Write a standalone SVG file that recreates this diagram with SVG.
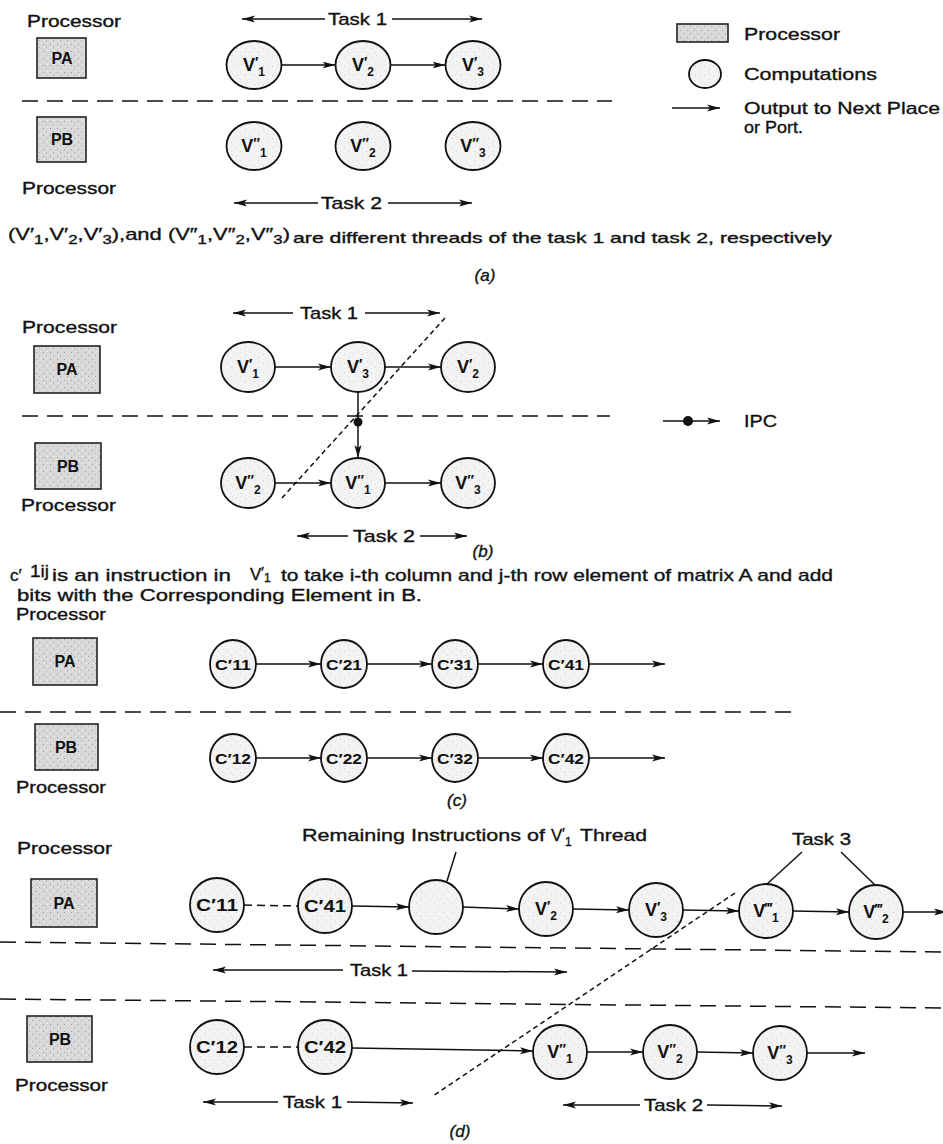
<svg xmlns="http://www.w3.org/2000/svg" width="943" height="1144" viewBox="0 0 943 1144">
<style>
.t{font-family:"Liberation Sans",Arial,Helvetica,sans-serif;font-size:17px;fill:#111;stroke:#111;stroke-width:0.35}
.sm{font-size:15px}
.sub{font-size:13px}
.it{font-style:italic;font-size:17px}
.pl{font-family:"Liberation Sans",Arial,sans-serif;font-weight:bold;font-size:16px;fill:#111;text-anchor:middle}
.lbl{font-family:"Liberation Sans",Arial,sans-serif;font-weight:bold;font-size:18px;fill:#111;text-anchor:middle}
.pr{font-size:14px}
.sb{font-size:12px}
.cl{font-family:"Liberation Sans",Arial,sans-serif;font-weight:bold;font-size:15px;fill:#111;text-anchor:middle}
.cl2{font-family:"Liberation Sans",Arial,sans-serif;font-weight:bold;font-size:17px;fill:#111;text-anchor:middle}
.proc rect{fill:url(#pfill);stroke:#222;stroke-width:1.6}
.node ellipse{fill:url(#cfill);stroke:#111;stroke-width:1.8}
.c line,.c path{stroke:#111;stroke-width:1.5;fill:none}
.arr{marker-end:url(#ah)}
.sep{stroke:#222;stroke-width:1.6;stroke-dasharray:16 9;fill:none}
.dot{stroke:#111;stroke-width:1.3;stroke-dasharray:5 3.5;fill:none}
.dsh{stroke-dasharray:8 5}
</style>
<defs>
<marker id="ah" markerWidth="14" markerHeight="8" refX="13" refY="4" orient="auto" markerUnits="userSpaceOnUse"><path d="M0,0.5 L13,4 L0,7.5 L3,4 z" fill="#111"/></marker>
<pattern id="pfill" width="7" height="7" patternUnits="userSpaceOnUse"><rect width="7" height="7" fill="#d8d8d8"/><rect x="1" y="2" width="1" height="1" fill="#9c9c9c"/><rect x="4" y="5" width="1" height="1" fill="#a8a8a8"/><rect x="5" y="1" width="1" height="1" fill="#f3f3f3"/><rect x="2" y="5" width="1" height="1" fill="#efefef"/></pattern>
<pattern id="cfill" width="9" height="9" patternUnits="userSpaceOnUse"><rect width="9" height="9" fill="#f3f3f3"/><rect x="2" y="3" width="1" height="1" fill="#cfcfcf"/><rect x="6" y="7" width="1" height="1" fill="#d6d6d6"/><rect x="7" y="1" width="1" height="1" fill="#dcdcdc"/></pattern>
</defs>
<rect width="943" height="1144" fill="#fff"/>

<!-- ===== (a) ===== -->
<g id="a-text">
<text class="t" x="27" y="27" textLength="94" lengthAdjust="spacingAndGlyphs">Processor</text>
<text class="t" x="328" y="25" textLength="59" lengthAdjust="spacingAndGlyphs">Task 1</text>
<text class="t" x="22" y="194" textLength="94" lengthAdjust="spacingAndGlyphs">Processor</text>
<text class="t" x="321" y="209" textLength="61" lengthAdjust="spacingAndGlyphs">Task 2</text>
<text class="t" x="8" y="240" textLength="282" lengthAdjust="spacingAndGlyphs">(V′<tspan class="sub" dy="4">1</tspan><tspan dy="-4">,V′</tspan><tspan class="sub" dy="4">2</tspan><tspan dy="-4">,V′</tspan><tspan class="sub" dy="4">3</tspan><tspan dy="-4">),and (V″</tspan><tspan class="sub" dy="4">1</tspan><tspan dy="-4">,V″</tspan><tspan class="sub" dy="4">2</tspan><tspan dy="-4">,V″</tspan><tspan class="sub" dy="4">3</tspan><tspan dy="-4">)</tspan></text>
<text class="t sm" x="293" y="243" textLength="539" lengthAdjust="spacingAndGlyphs">are different threads of the task 1 and task 2, respectively</text>
<text class="t it" x="485" y="281" text-anchor="middle">(a)</text>
</g>
<g id="a-PA" class="proc"><rect x="37" y="38" width="49" height="40"/><text class="pl" x="62" y="64">PA</text></g>
<g id="a-PB" class="proc"><rect x="37" y="117" width="49" height="45"/><text class="pl" x="62" y="145">PB</text></g>
<g id="a-V1p" class="node"><ellipse cx="254" cy="65" rx="27.5" ry="24"/><text class="lbl" x="254" y="71">V<tspan class="pr" dy="-4">′</tspan><tspan class="sb" dy="9">1</tspan></text></g>
<g id="a-V2p" class="node"><ellipse cx="363" cy="65" rx="27.5" ry="24"/><text class="lbl" x="363" y="71">V<tspan class="pr" dy="-4">′</tspan><tspan class="sb" dy="9">2</tspan></text></g>
<g id="a-V3p" class="node"><ellipse cx="473" cy="65" rx="27.5" ry="24"/><text class="lbl" x="473" y="71">V<tspan class="pr" dy="-4">′</tspan><tspan class="sb" dy="9">3</tspan></text></g>
<g id="a-V1pp" class="node"><ellipse cx="254" cy="146" rx="27.5" ry="24"/><text class="lbl" x="254" y="152">V<tspan class="pr" dy="-4">″</tspan><tspan class="sb" dy="9">1</tspan></text></g>
<g id="a-V2pp" class="node"><ellipse cx="363" cy="146" rx="27.5" ry="24"/><text class="lbl" x="363" y="152">V<tspan class="pr" dy="-4">″</tspan><tspan class="sb" dy="9">2</tspan></text></g>
<g id="a-V3pp" class="node"><ellipse cx="473" cy="146" rx="27.5" ry="24"/><text class="lbl" x="473" y="152">V<tspan class="pr" dy="-4">″</tspan><tspan class="sb" dy="9">3</tspan></text></g>

<!-- legend -->
<g id="legend">
<g id="lg-proc" class="proc"><rect x="677" y="24" width="51" height="18"/></g>
<text class="t" x="744" y="40" textLength="96" lengthAdjust="spacingAndGlyphs">Processor</text>
<g id="lg-comp" class="node"><ellipse cx="705" cy="74" rx="16" ry="14"/></g>
<text class="t" x="744" y="80" textLength="133" lengthAdjust="spacingAndGlyphs">Computations</text>
<text class="t" x="744" y="114" textLength="196" lengthAdjust="spacingAndGlyphs">Output to Next Place</text>
<text class="t" x="744" y="133" textLength="59" lengthAdjust="spacingAndGlyphs">or Port.</text>
<text class="t" x="744" y="427" textLength="33" lengthAdjust="spacingAndGlyphs">IPC</text>
</g>

<!-- ===== (b) ===== -->
<g id="b-text">
<text class="t" x="300" y="319" textLength="58" lengthAdjust="spacingAndGlyphs">Task 1</text>
<text class="t" x="22" y="333" textLength="95" lengthAdjust="spacingAndGlyphs">Processor</text>
<text class="t" x="21" y="511" textLength="95" lengthAdjust="spacingAndGlyphs">Processor</text>
<text class="t" x="353" y="542" textLength="62" lengthAdjust="spacingAndGlyphs">Task 2</text>
<text class="t it" x="483" y="557" text-anchor="middle">(b)</text>
</g>
<g id="b-PA" class="proc"><rect x="34" y="346" width="66" height="47"/><text class="pl" x="67" y="375">PA</text></g>
<g id="b-PB" class="proc"><rect x="35" y="443" width="66" height="46"/><text class="pl" x="68" y="472">PB</text></g>
<g id="b-V1p" class="node"><ellipse cx="248" cy="367" rx="27" ry="25"/><text class="lbl" x="248" y="373">V<tspan class="pr" dy="-4">′</tspan><tspan class="sb" dy="9">1</tspan></text></g>
<g id="b-V3p" class="node"><ellipse cx="358" cy="367" rx="27" ry="25"/><text class="lbl" x="358" y="373">V<tspan class="pr" dy="-4">′</tspan><tspan class="sb" dy="9">3</tspan></text></g>
<g id="b-V2p" class="node"><ellipse cx="468" cy="367" rx="27" ry="25"/><text class="lbl" x="468" y="373">V<tspan class="pr" dy="-4">′</tspan><tspan class="sb" dy="9">2</tspan></text></g>
<g id="b-V2pp" class="node"><ellipse cx="248" cy="483" rx="27" ry="25"/><text class="lbl" x="248" y="489">V<tspan class="pr" dy="-4">″</tspan><tspan class="sb" dy="9">2</tspan></text></g>
<g id="b-V1pp" class="node"><ellipse cx="358" cy="483" rx="27" ry="25"/><text class="lbl" x="358" y="489">V<tspan class="pr" dy="-4">″</tspan><tspan class="sb" dy="9">1</tspan></text></g>
<g id="b-V3pp" class="node"><ellipse cx="468" cy="483" rx="27" ry="25"/><text class="lbl" x="468" y="489">V<tspan class="pr" dy="-4">″</tspan><tspan class="sb" dy="9">3</tspan></text></g>

<!-- ===== (c) ===== -->
<g id="c-text">
<text class="t" x="10" y="581">c′</text>
<text class="t" x="30" y="577" font-size="12" textLength="19" lengthAdjust="spacingAndGlyphs">1ij</text>
<text class="t" x="52" y="581" textLength="179" lengthAdjust="spacingAndGlyphs">is an instruction in</text>
<text class="t" x="250" y="580">V<tspan class="pr" dy="-3">′</tspan><tspan class="sb" dy="5">1</tspan></text>
<text class="t" x="281" y="581" textLength="552" lengthAdjust="spacingAndGlyphs">to take i-th column and j-th row element of matrix A and add</text>
<text class="t" x="17" y="601" textLength="405" lengthAdjust="spacingAndGlyphs">bits with the Corresponding Element in B.</text>
<text class="t" x="16" y="620" textLength="90" lengthAdjust="spacingAndGlyphs">Processor</text>
<text class="t" x="16" y="793" textLength="90" lengthAdjust="spacingAndGlyphs">Processor</text>
<text class="t it" x="457" y="806" text-anchor="middle">(c)</text>
</g>
<g id="c-PA" class="proc"><rect x="33" y="638" width="64" height="47"/><text class="pl" x="65" y="667">PA</text></g>
<g id="c-PB" class="proc"><rect x="35" y="724" width="63" height="46"/><text class="pl" x="66" y="753">PB</text></g>
<g id="c-C11" class="node"><ellipse cx="233" cy="664" rx="23" ry="24"/><text class="cl" x="233" y="670" textLength="36" lengthAdjust="spacingAndGlyphs">C′11</text></g>
<g id="c-C21" class="node"><ellipse cx="344" cy="664" rx="23" ry="24"/><text class="cl" x="344" y="670" textLength="36" lengthAdjust="spacingAndGlyphs">C′21</text></g>
<g id="c-C31" class="node"><ellipse cx="455" cy="664" rx="23" ry="24"/><text class="cl" x="455" y="670" textLength="36" lengthAdjust="spacingAndGlyphs">C′31</text></g>
<g id="c-C41" class="node"><ellipse cx="566" cy="664" rx="23" ry="24"/><text class="cl" x="566" y="670" textLength="36" lengthAdjust="spacingAndGlyphs">C′41</text></g>
<g id="c-C12" class="node"><ellipse cx="233" cy="758" rx="23" ry="24"/><text class="cl" x="233" y="764" textLength="36" lengthAdjust="spacingAndGlyphs">C′12</text></g>
<g id="c-C22" class="node"><ellipse cx="344" cy="758" rx="23" ry="24"/><text class="cl" x="344" y="764" textLength="36" lengthAdjust="spacingAndGlyphs">C′22</text></g>
<g id="c-C32" class="node"><ellipse cx="455" cy="758" rx="23" ry="24"/><text class="cl" x="455" y="764" textLength="36" lengthAdjust="spacingAndGlyphs">C′32</text></g>
<g id="c-C42" class="node"><ellipse cx="566" cy="758" rx="23" ry="24"/><text class="cl" x="566" y="764" textLength="36" lengthAdjust="spacingAndGlyphs">C′42</text></g>

<!-- ===== (d) ===== -->
<g id="d-text">
<text class="t" x="17" y="854" textLength="95" lengthAdjust="spacingAndGlyphs">Processor</text>
<text class="t" x="302" y="841" textLength="243" lengthAdjust="spacingAndGlyphs">Remaining Instructions of</text>
<text class="t" x="551" y="841">V<tspan class="pr" dy="-3">′</tspan><tspan class="sb" dy="8">1</tspan></text>
<text class="t" x="580" y="841" textLength="67" lengthAdjust="spacingAndGlyphs">Thread</text>
<text class="t" x="792" y="845" textLength="59" lengthAdjust="spacingAndGlyphs">Task 3</text>
<text class="t" x="350" y="976" textLength="58" lengthAdjust="spacingAndGlyphs">Task 1</text>
<text class="t" x="15" y="1091" textLength="93" lengthAdjust="spacingAndGlyphs">Processor</text>
<text class="t" x="283" y="1108" textLength="59" lengthAdjust="spacingAndGlyphs">Task 1</text>
<text class="t" x="644" y="1111" textLength="59" lengthAdjust="spacingAndGlyphs">Task 2</text>
<text class="t it" x="460" y="1137" text-anchor="middle">(d)</text>
</g>
<g id="d-PA" class="proc"><rect x="31" y="879" width="66" height="48"/><text class="pl" x="64" y="909">PA</text></g>
<g id="d-PB" class="proc"><rect x="27" y="1016" width="65" height="46"/><text class="pl" x="60" y="1045">PB</text></g>
<g id="d-C11" class="node"><ellipse cx="217" cy="905" rx="27" ry="27"/><text class="cl2" x="217" y="911" textLength="42" lengthAdjust="spacingAndGlyphs">C′11</text></g>
<g id="d-C41" class="node"><ellipse cx="325" cy="906" rx="27" ry="27"/><text class="cl2" x="325" y="912" textLength="42" lengthAdjust="spacingAndGlyphs">C′41</text></g>
<g id="d-REM" class="node"><ellipse cx="436" cy="907" rx="27" ry="27"/></g>
<g id="d-V2p" class="node"><ellipse cx="546" cy="909" rx="27" ry="27"/><text class="lbl" x="546" y="915">V<tspan class="pr" dy="-4">′</tspan><tspan class="sb" dy="9">2</tspan></text></g>
<g id="d-V3p" class="node"><ellipse cx="656" cy="910" rx="27" ry="27"/><text class="lbl" x="656" y="916">V<tspan class="pr" dy="-4">′</tspan><tspan class="sb" dy="9">3</tspan></text></g>
<g id="d-V1ppp" class="node"><ellipse cx="766" cy="911" rx="27" ry="27"/><text class="lbl" x="766" y="917">V<tspan class="pr" dy="-4">‴</tspan><tspan class="sb" dy="9">1</tspan></text></g>
<g id="d-V2ppp" class="node"><ellipse cx="876" cy="912" rx="27" ry="27"/><text class="lbl" x="876" y="918">V<tspan class="pr" dy="-4">‴</tspan><tspan class="sb" dy="9">2</tspan></text></g>
<g id="d-C12" class="node"><ellipse cx="217" cy="1047" rx="27" ry="27"/><text class="cl2" x="217" y="1053" textLength="42" lengthAdjust="spacingAndGlyphs">C′12</text></g>
<g id="d-C42" class="node"><ellipse cx="325" cy="1047" rx="27" ry="27"/><text class="cl2" x="325" y="1053" textLength="42" lengthAdjust="spacingAndGlyphs">C′42</text></g>
<g id="d-V1pp" class="node"><ellipse cx="560" cy="1052" rx="27" ry="27"/><text class="lbl" x="560" y="1058">V<tspan class="pr" dy="-4">″</tspan><tspan class="sb" dy="9">1</tspan></text></g>
<g id="d-V2pp" class="node"><ellipse cx="670" cy="1052" rx="27" ry="27"/><text class="lbl" x="670" y="1058">V<tspan class="pr" dy="-4">″</tspan><tspan class="sb" dy="9">2</tspan></text></g>
<g id="d-V3pp" class="node"><ellipse cx="780" cy="1053" rx="27" ry="27"/><text class="lbl" x="780" y="1059">V<tspan class="pr" dy="-4">″</tspan><tspan class="sb" dy="9">3</tspan></text></g>

<!-- ===== connectors ===== -->
<g id="connectors" class="c">
<!-- (a) -->
<line class="arr" x1="325" y1="19" x2="242" y2="19"/>
<line class="arr" x1="392" y1="19" x2="482" y2="19"/>
<line class="arr" x1="281.5" y1="65" x2="335.5" y2="65"/>
<line class="arr" x1="390.5" y1="65" x2="445.5" y2="65"/>
<line class="sep" x1="22" y1="101" x2="612" y2="101"/>
<line class="arr" x1="318" y1="203" x2="234" y2="203"/>
<line class="arr" x1="388" y1="203" x2="472" y2="203"/>
<line class="arr" x1="672" y1="108" x2="720" y2="108"/>
<!-- (b) -->
<line class="arr" x1="293" y1="313" x2="233" y2="313"/>
<line class="arr" x1="365" y1="313" x2="440" y2="313"/>
<line class="arr" x1="275" y1="367" x2="331" y2="367"/>
<line class="arr" x1="385" y1="367" x2="441" y2="367"/>
<line class="sep" x1="22" y1="416" x2="610" y2="416"/>
<line class="arr" x1="358" y1="392" x2="358" y2="458"/>
<circle cx="358" cy="422" r="4.5" fill="#111" stroke="none"/>
<line class="dot" x1="445" y1="318" x2="282" y2="498"/>
<line class="arr" x1="275" y1="483" x2="331" y2="483"/>
<line class="arr" x1="385" y1="483" x2="441" y2="483"/>
<line class="arr" x1="348" y1="536" x2="297" y2="536"/>
<line class="arr" x1="420" y1="536" x2="467" y2="536"/>
<line class="arr" x1="663" y1="421" x2="720" y2="421"/>
<circle cx="688" cy="421" r="5" fill="#111" stroke="none"/>
<!-- (c) -->
<line class="arr" x1="256" y1="664" x2="321" y2="664"/>
<line class="arr" x1="367" y1="664" x2="432" y2="664"/>
<line class="arr" x1="478" y1="664" x2="543" y2="664"/>
<line class="arr" x1="589" y1="664" x2="665" y2="664"/>
<line class="sep" x1="0" y1="712" x2="800" y2="712"/>
<line class="arr" x1="256" y1="758" x2="321" y2="758"/>
<line class="arr" x1="367" y1="758" x2="432" y2="758"/>
<line class="arr" x1="478" y1="758" x2="543" y2="758"/>
<line class="arr" x1="589" y1="758" x2="665" y2="758"/>
<!-- (d) -->
<line x1="456" y1="852" x2="447" y2="881"/>
<line x1="802" y1="852" x2="767" y2="884"/>
<line x1="841" y1="852" x2="875" y2="885"/>
<line class="dsh" x1="244" y1="905" x2="298" y2="906"/>
<line class="arr" x1="352" y1="906" x2="409" y2="907"/>
<line class="arr" x1="463" y1="907" x2="519" y2="909"/>
<line class="arr" x1="573" y1="909" x2="629" y2="910"/>
<line class="arr" x1="683" y1="910" x2="739" y2="911"/>
<line class="arr" x1="793" y1="911" x2="849" y2="912"/>
<line class="arr" x1="903" y1="912" x2="947" y2="912"/>
<line class="sep" x1="0" y1="942" x2="943" y2="952"/>
<line class="arr" x1="343" y1="970" x2="213" y2="970"/>
<line class="arr" x1="412" y1="971" x2="567" y2="972"/>
<line class="sep" x1="0" y1="999" x2="943" y2="1008"/>
<line class="dot" x1="735" y1="893" x2="433" y2="1096"/>
<line class="dsh" x1="244" y1="1047" x2="298" y2="1047"/>
<line class="arr" x1="352" y1="1048" x2="533" y2="1051"/>
<line class="arr" x1="587" y1="1052" x2="643" y2="1052"/>
<line class="arr" x1="697" y1="1052" x2="753" y2="1053"/>
<line class="arr" x1="807" y1="1053" x2="865" y2="1053"/>
<line class="arr" x1="278" y1="1102" x2="203" y2="1102"/>
<line class="arr" x1="347" y1="1102" x2="413" y2="1103"/>
<line class="arr" x1="640" y1="1105" x2="563" y2="1105"/>
<line class="arr" x1="707" y1="1105" x2="782" y2="1106"/>
</g>
</svg>
